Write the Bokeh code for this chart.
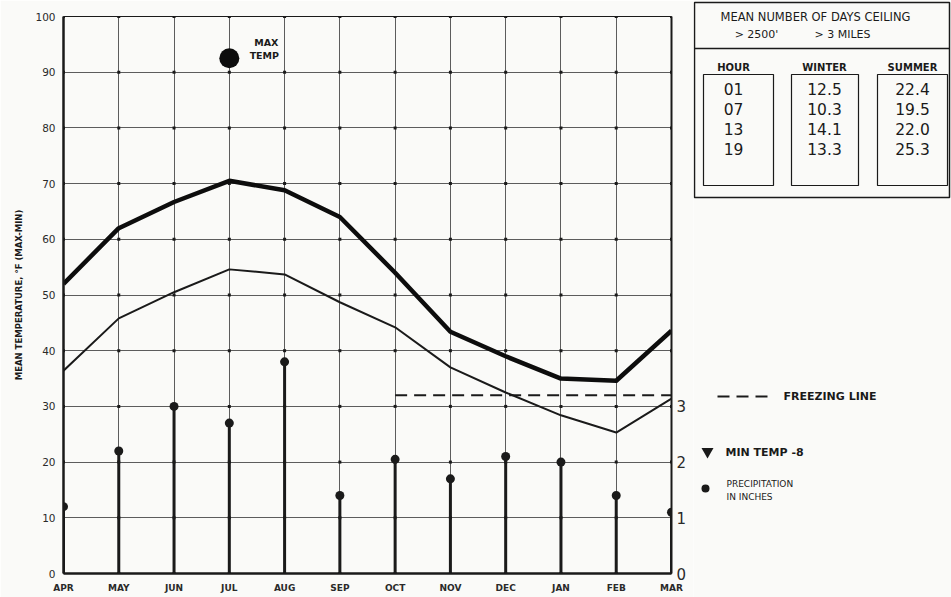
from bokeh.plotting import figure
from bokeh.models import Range1d, FixedTicker, LinearAxis
from bokeh.layouts import row
from bokeh.core.properties import value
from bokeh.embed import file_html
from bokeh.resources import INLINE

# ---------------- data ----------------
months = ["APR", "MAY", "JUN", "JUL", "AUG", "SEP", "OCT", "NOV", "DEC", "JAN", "FEB", "MAR"]
mean_max = [52, 62, 66.7, 70.5, 68.8, 64, 54, 43.4, 39, 35, 34.6, 43.6]
mean_min = [36.4, 45.8, 50.5, 54.6, 53.7, 48.7, 44.2, 37, 32.5, 28.4, 25.3, 31.4]
precip = [1.2, 2.2, 3.0, 2.7, 3.8, 1.4, 2.05, 1.7, 2.1, 2.0, 1.4, 1.1]
max_temp_month = "JUL"
max_temp = 92.5
freezing = 32
freezing_from = "OCT"
temp_ticks = list(range(0, 101, 10))
precip_ticks = [0, 1, 2, 3]

table_title = ["MEAN NUMBER OF DAYS CEILING"]
table_sub = ["> 2500'", "> 3 MILES"]
table_cols = ["HOUR", "WINTER", "SUMMER"]
hours = ["01", "07", "13", "19"]
winter = ["12.5", "10.3", "14.1", "13.3"]
summer = ["22.4", "19.5", "22.0", "25.3"]

legend_freeze = "FREEZING LINE"
legend_min = "MIN TEMP -8"
legend_precip = ["PRECIPITATION", "IN INCHES"]

# ---------------- styles ----------------
FONT = value("DejaVu Sans")
INK = "#1a1a1a"
GRID = "#4a4a4a"
BG = "#fafaf8"
H = 597
W1 = 693
W2 = 258

xs = list(range(len(months)))

p = figure(width=W1, height=H, x_range=Range1d(0, len(months) - 1),
           y_range=Range1d(0, 100), output_backend="svg", toolbar_location=None,
           min_border_left=63, min_border_right=22, min_border_top=16,
           min_border_bottom=24, background_fill_color=BG, border_fill_color=BG)
p.frame_align = False
p.extra_y_ranges = {"precip": Range1d(0, 10)}

p.outline_line_color = INK
p.outline_line_width = 1

# axes
p.xaxis.ticker = FixedTicker(ticks=xs)
p.xaxis.major_label_overrides = {i: m for i, m in enumerate(months)}
p.xaxis.major_tick_line_color = None
p.xaxis.minor_tick_line_color = None
p.xaxis.major_tick_out = 0
p.xaxis.major_tick_in = 0
p.xaxis.minor_tick_out = 0
p.xaxis.axis_line_width = 2.5
p.xaxis.axis_line_color = INK
p.xaxis.major_label_standoff = 9
p.xaxis.major_label_text_font = "DejaVu Sans"
p.xaxis.major_label_text_font_size = "9px"
p.xaxis.major_label_text_font_style = "bold"
p.xaxis.major_label_text_color = "#2a2a2a"

p.yaxis.ticker = FixedTicker(ticks=temp_ticks)
p.yaxis.major_tick_line_color = None
p.yaxis.minor_tick_line_color = None
p.yaxis.major_tick_out = 0
p.yaxis.major_tick_in = 0
p.yaxis.minor_tick_out = 0
p.yaxis.axis_line_width = 2.5
p.yaxis.axis_line_color = INK
p.yaxis.major_label_standoff = 8
p.yaxis.major_label_text_font = "DejaVu Sans"
p.yaxis.major_label_text_font_size = "10.5px"
p.yaxis.major_label_text_color = "#2a2a2a"
p.yaxis.axis_label = "MEAN TEMPERATURE, \u00b0F (MAX-MIN)"
p.yaxis.axis_label_text_font = "DejaVu Sans"
p.yaxis.axis_label_text_font_size = "8.5px"
p.yaxis.axis_label_text_font_style = "bold"
p.yaxis.axis_label_text_color = INK
p.yaxis.axis_label_standoff = 8

rax = LinearAxis(y_range_name="precip", ticker=FixedTicker(ticks=precip_ticks))
rax.major_tick_line_color = None
rax.minor_tick_line_color = None
rax.major_tick_out = 0
rax.major_tick_in = 0
rax.minor_tick_out = 0
rax.axis_line_width = 2
rax.axis_line_color = INK
rax.major_label_standoff = 5
rax.major_label_text_font = "DejaVu Sans"
rax.major_label_text_font_size = "15px"
rax.major_label_text_color = "#2a2a2a"
p.add_layout(rax, "right")

# grid
p.xgrid.ticker = FixedTicker(ticks=xs)
p.ygrid.ticker = FixedTicker(ticks=temp_ticks)
p.grid.grid_line_color = GRID
p.grid.grid_line_width = 1
p.grid.grid_line_alpha = 0.9

# intersection dots of the printed grid
gx = [x for x in xs for _ in temp_ticks]
gy = [t for _ in xs for t in temp_ticks]
p.scatter(gx, gy, marker="square", size=3, color=INK, line_color=None)

# precipitation stems
p.segment(x0=xs, y0=[0] * len(xs), x1=xs, y1=precip, y_range_name="precip",
          line_color=INK, line_width=3)
p.scatter(xs, precip, y_range_name="precip", size=9, color=INK, line_color=None)

# freezing line
fi = months.index(freezing_from)
p.line(xs[fi:], [freezing] * len(xs[fi:]), line_color=INK, line_width=2,
       line_dash="12 7")

# temperature lines
p.line(xs, mean_min, line_color=INK, line_width=2)
p.line(xs, mean_max, line_color="#0d0d0d", line_width=4.5, line_join="round")

# max temp
mi = months.index(max_temp_month)
p.scatter([mi], [max_temp], size=20, color="#0d0d0d", line_color=None)
p.text(x=[mi, mi], y=[max_temp, max_temp], text=["MAX", "TEMP"],
       x_offset=[37, 35], y_offset=[-16, -3], text_align="center",
       text_baseline="middle", text_font=FONT, text_font_size=value("9.5px"),
       text_font_style="bold", text_color=INK)

# ---------------- right panel: table + legend ----------------
q = figure(width=W2, height=H, x_range=Range1d(0, W2), y_range=Range1d(H, 0),
           output_backend="svg", toolbar_location=None, min_border=0,
           x_axis_location=None, y_axis_location=None,
           background_fill_color=BG, border_fill_color=BG)
q.frame_align = False
q.grid.visible = False
q.outline_line_color = None

# table frame
q.quad(left=[1], right=[256], top=[2], bottom=[197], fill_color=None,
       line_color=INK, line_width=1.5)
q.segment(x0=[1], y0=[48], x1=[256], y1=[48], line_color=INK, line_width=1.5)

q.text(x=[122], y=[16], text=table_title, text_align="center",
       text_baseline="middle", text_font=FONT, text_font_size=value("11.5px"),
       text_color=INK)
q.text(x=[63, 149], y=[34, 34], text=table_sub, text_align="center",
       text_baseline="middle", text_font=FONT, text_font_size=value("11px"),
       text_color=INK)

col_x = [40, 131, 219]
box_l = [10, 98, 184]
box_r = [80, 165, 254]
q.text(x=col_x, y=[67] * 3, text=table_cols, text_align="center",
       text_baseline="middle", text_font=FONT, text_font_size=value("10px"),
       text_font_style="bold", text_color=INK)
q.quad(left=box_l, right=box_r, top=[74] * 3, bottom=[185] * 3,
       fill_color=None, line_color=INK, line_width=1.2)

row_y = [88 + 20 * i for i in range(len(hours))]
for cx, vals in zip(col_x, [hours, winter, summer]):
    q.text(x=[cx] * len(vals), y=row_y, text=vals, text_align="center",
           text_baseline="middle", text_font=FONT, text_font_size=value("15.5px"),
           text_color=INK)

# legend
q.line([24, 80], [396, 396], line_color=INK, line_width=2, line_dash="12 7")
q.text(x=[90], y=[396], text=[legend_freeze], text_baseline="middle",
       text_font=FONT, text_font_size=value("11px"), text_font_style="bold",
       text_color=INK)
q.scatter([14], [451], marker="inverted_triangle", size=12, color=INK,
          line_color=None)
q.text(x=[32], y=[452], text=[legend_min], text_baseline="middle",
       text_font=FONT, text_font_size=value("11px"), text_font_style="bold",
       text_color=INK)
q.scatter([12], [488], size=8, color=INK, line_color=None)
q.text(x=[33, 33], y=[483, 496], text=legend_precip, text_baseline="middle",
       text_font=FONT, text_font_size=value("9px"), text_color=INK)

layout = row(p, q, spacing=0)
open("out.html", "w").write(file_html(layout, INLINE))
